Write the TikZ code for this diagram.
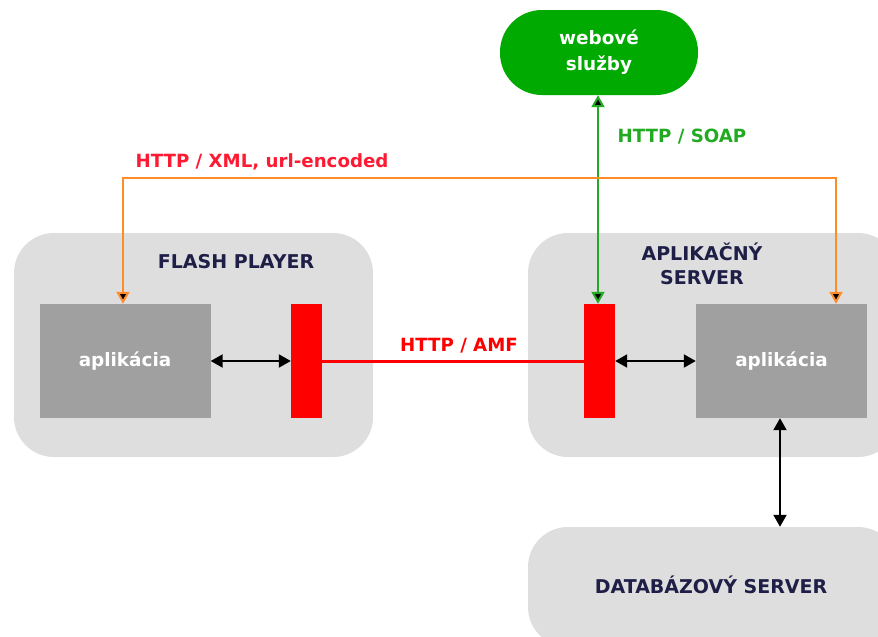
\documentclass[tikz,border=0pt]{standalone}
\usepackage{fontspec}
\setmainfont{DejaVu Sans}
\usetikzlibrary{arrows.meta}
\definecolor{boxgray}{HTML}{DEDEDE}
\definecolor{appgray}{HTML}{A0A0A0}
\definecolor{wsgreen}{HTML}{00AA00}
\definecolor{lgreen}{HTML}{22AA22}
\definecolor{lorange}{HTML}{FF8C28}
\definecolor{lred}{HTML}{FF1A33}
\definecolor{bred}{HTML}{FF0000}
\definecolor{darktext}{HTML}{1E1E46}
\tikzset{
  group/.style={rectangle, rounded corners=40pt, fill=boxgray, draw=none},
  appbox/.style={rectangle, fill=appgray, draw=none, minimum width=171pt, minimum height=114pt, text=white, font=\fontsize{18.4}{20}\selectfont\bfseries},
  redbar/.style={rectangle, fill=bred, draw=none, minimum width=31pt, minimum height=114pt},
  title/.style={text=darktext, font=\fontsize{19}{24}\selectfont\bfseries, align=center},
  lab/.style={font=\fontsize{18.2}{20}\selectfont\bfseries},
  link/.style={line width=2pt, {Triangle[width=13pt,length=12pt,fill=black]}-{Triangle[width=13pt,length=12pt,fill=black]}},
}
\begin{document}
\begin{tikzpicture}[x=1pt,y=-1pt]
\useasboundingbox (0,0) rectangle (878,637);
\clip (0,0) rectangle (878,637);
% groups
\node[group, minimum width=359pt, minimum height=224pt] (flash) at (193.5,345) {};
\node[group, minimum width=370pt, minimum height=224pt] (server) at (713,345) {};
\node[group, minimum width=370pt, minimum height=120pt] (db) at (713,587) {};
\node[title] (flasht) at (236,262) {FLASH PLAYER};
\node[title] (servert) at (702,264) {APLIKAČNÝ\\SERVER};
\node[title] (dbt) at (711,585) {DATABÁZOVÝ SERVER};
% web services
\node[rectangle, rounded corners=42pt, fill=wsgreen, minimum width=198pt, minimum height=85pt, text=white, font=\fontsize{18.4}{26}\selectfont\bfseries, align=center] (ws) at (599,52.5) {webové\\služby};
% apps and bars
\node[appbox] (lapp) at (125,361) {aplikácia};
\node[redbar] (lbar) at (306.5,361) {};
\node[redbar] (rbar) at (599.5,361) {};
\node[appbox] (rapp) at (781.5,361) {aplikácia};
% connectors
\draw[bred, line width=3pt] (lbar.east) -- (rbar.west);
\node[lab, text=bred] (amf) at (459,346) {HTTP / AMF};
\draw[link, black] (lapp.east) -- (lbar.west);
\draw[link, black] (rbar.east) -- (rapp.west);
\coordinate (dbx) at (780,0);
\draw[link, black] (rapp.south -| dbx) -- (db.north -| dbx);
\coordinate (gx) at (598,0);
\draw[link, lgreen] (ws.south -| gx) -- (rbar.north -| gx);
\node[lab, text=lgreen] (soap) at (682,137) {HTTP / SOAP};
\coordinate (o1) at (123,178);
\coordinate (o2) at (836,178);
\draw[link, lorange] (lapp.north -| o1) -- (o1) -- (o2) -- (rapp.north -| o2);
\node[lab, text=lred] (xml) at (262,162) {HTTP / XML, url-encoded};
\end{tikzpicture}
\end{document}
